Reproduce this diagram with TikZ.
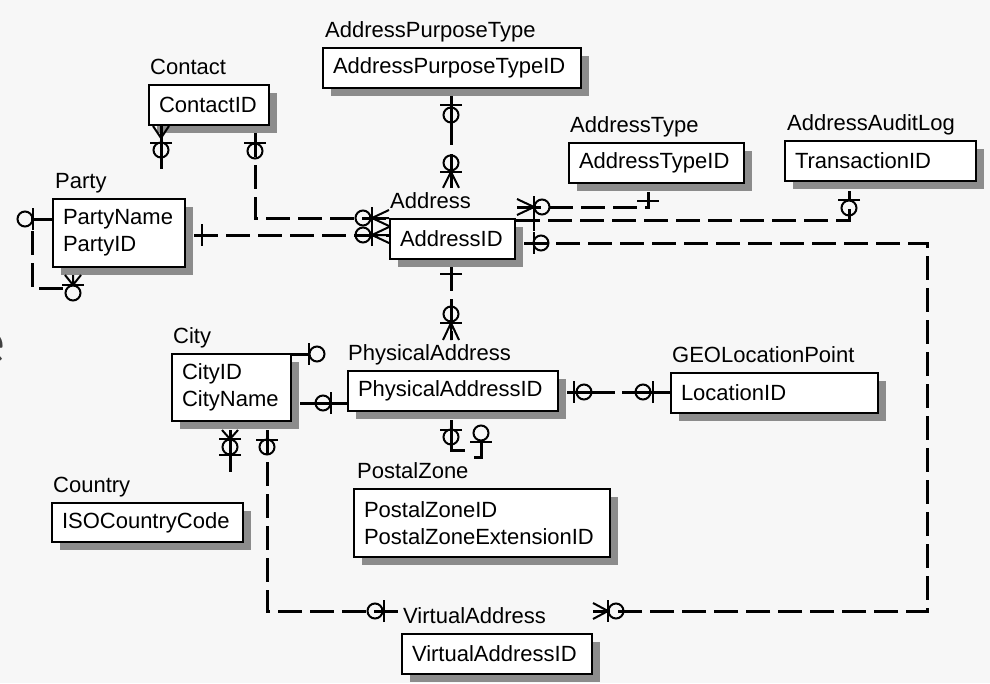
\documentclass[tikz,border=0pt]{standalone}
\usepackage{fontspec}
\setmainfont{Liberation Sans}
\newfontfamily\slidefont{Carlito}
\usepackage{xcolor}
\usepackage{tikz}
\usetikzlibrary{
  calc,
  positioning,
  shadows
}
\definecolor{ErInk}{HTML}{000000}
\definecolor{ErSlide}{HTML}{404040}
\colorlet{ErShadow}{black!45}
\colorlet{ErPaper}{black!3}
\newcommand{\ErFont}{\fontsize{22}{27}\selectfont}
\tikzset{
  every picture/.style = {line join=miter},
  entity/.style = {
    draw=ErInk,
    fill=white,
    line width=2pt,
    anchor=north west,
    minimum height=40pt,
    inner xsep=10pt,
    inner ysep=0pt,
    align=left,
    font=\ErFont,
    drop shadow={shadow xshift=8pt, shadow yshift=-8pt, fill=ErShadow, opacity=1}
  },
  entity two/.style = {entity, minimum height=68pt},
  entity title/.style = {anchor=base west, font=\ErFont, inner sep=0pt},
  link/.style = {draw=ErInk, line width=3pt, dash pattern=on 24pt off 8pt, line cap=butt},
  link solid/.style = {draw=ErInk, line width=3pt, line cap=butt},
  er mark/.style = {draw=ErInk, line width=2pt},
  slide text/.style = {font=\slidefont\fontsize{64}{70}\selectfont, text=ErSlide, inner sep=0pt}
}
\newcommand{\ErEnd}[3]{%
  \begin{scope}[shift={#1}, rotate=#2]
    #3
  \end{scope}%
}
\newcommand{\ErOne}[1]{\draw[er mark] (#1,-11) -- (#1,11);}
\newcommand{\ErZero}[1]{\draw[er mark] (#1,0) circle[radius=7.5pt];}
\newcommand{\ErMany}[1]{\draw[er mark] (0,-8) -- (#1,0) -- (0,8) (0,0) -- (#1,0);}

\begin{document}
\begin{tikzpicture}[x=1pt,y=-1pt]
  \fill[ErPaper] (0,0) rectangle (990,683);
  \useasboundingbox (0,0) rectangle (990,683);
  \clip (0,0) rectangle (990,683);

  \node[slide text, anchor=base east] (slideE) at (6,363) {e};

  \node[entity, text width=238pt] (apt) at (322,47) {AddressPurposeTypeID};
  \node[entity, text width=100pt] (contact) at (148,84) {ContactID};
  \node[entity, text width=155pt] (addrtype) at (568,142) {AddressTypeID};
  \node[entity, text width=171pt] (audit) at (784,140) {TransactionID};
  \node[entity two, text width=112pt] (party) at (52,198) {PartyName\\PartyID};
  \node[entity, text width=105pt] (address) at (389,218) {AddressID};
  \node[entity two, text width=99pt, minimum height=67pt] (city) at (171,353) {CityID\\CityName};
  \node[entity, text width=190pt] (phys) at (347,370) {PhysicalAddressID};
  \node[entity, text width=187pt] (geo) at (670,372) {LocationID};
  \node[entity two, text width=236pt] (postal) at (353,488) {PostalZoneID\\PostalZoneExtensionID};
  \node[entity, text width=171pt, minimum height=39pt] (country) at (51,502) {ISOCountryCode};
  \node[entity, text width=170pt] (virtual) at (401,633) {VirtualAddressID};

  \node[entity title] (aptT) at ($(apt.north west)+(3,-10)$) {AddressPurposeType};
  \node[entity title] (contactT) at ($(contact.north west)+(2,-10)$) {Contact};
  \node[entity title] (addrtypeT) at ($(addrtype.north west)+(2,-10)$) {AddressType};
  \node[entity title] (auditT) at ($(audit.north west)+(3,-10)$) {AddressAuditLog};
  \node[entity title] (partyT) at ($(party.north west)+(3,-10)$) {Party};
  \node[entity title] (addressT) at ($(address.north west)+(1,-10)$) {Address};
  \node[entity title] (cityT) at ($(city.north west)+(2,-10)$) {City};
  \node[entity title] (physT) at ($(phys.north west)+(1,-10)$) {PhysicalAddress};
  \node[entity title] (geoT) at ($(geo.north west)+(2,-10)$) {GEOLocationPoint};
  \node[entity title] (postalT) at ($(postal.north west)+(4,-10)$) {PostalZone};
  \node[entity title] (countryT) at ($(country.north west)+(2,-10)$) {Country};
  \node[entity title] (virtualT) at ($(virtual.north west)+(2,-10)$) {VirtualAddress};

  % contact -- address
  \coordinate (contactOut) at ($(contact.south east)+(-15,7)$);
  \draw[link] (contactOut) |- (address.north west);
  \ErEnd{(contactOut)}{-90}{\ErOne{10}\ErZero{18}}
  \ErEnd{(address.north west)}{180}{\ErMany{17}\ErOne{17}\ErZero{26}}

  % party -- address
  \coordinate (partyOut) at ($(party.north east)+(8,37)$);
  \coordinate (partyIn) at (partyOut -| address.west);
  \draw[link] (partyOut) -- (partyIn);
  \ErEnd{($(party.north east)+(0,37)$)}{0}{\ErOne{16}}
  \ErEnd{(partyIn)}{180}{\ErMany{17}\ErOne{17}\ErZero{26}}

  % party -- party
  \draw[link] ($(party.north west)+(0,21)$) -| ($(party.south west)+(-20,20)$) -- ($(party.south west)+(14,20)$);
  \ErEnd{($(party.north west)+(0,21)$)}{180}{\ErOne{19}\ErZero{27}}
  \ErEnd{($(party.south west)+(21,7)$)}{-90}{\ErMany{10}\ErOne{10}\ErZero{18}}

  % contact, open end
  \coordinate (contactFree) at ($(contact.south west)+(13,43)$);
  \draw[link solid] ($(contact.south west)+(13,0)$) -- (contactFree);
  \ErEnd{($(contact.south west)+(13,0)$)}{-90}{\ErMany{12}\ErOne{17}\ErZero{24}}

  % addresspurposetype -- address
  \coordinate (aptOut) at ($(apt.south west)+(129,7)$);
  \coordinate (aptIn) at ($(aptOut |- addressT.north)+(0,-4)$);
  \draw[link, dash pattern=on 49pt off 9pt] (aptOut) -- (aptIn);
  \ErEnd{(aptOut)}{-90}{\ErOne{9}\ErZero{19}}
  \ErEnd{(aptIn)}{90}{\ErMany{16}\ErOne{16}\ErZero{25}}

  % address -- addresstype
  \coordinate (typeOut) at ($(address.north east)+(1,-11)$);
  \coordinate (typeIn) at ($(addrtype.south west)+(80,8)$);
  \draw[link] (typeOut) -| (typeIn);
  \ErEnd{(typeOut)}{0}{\ErMany{17}\ErOne{17}\ErZero{25}}
  \ErEnd{(typeIn)}{-90}{\ErOne{9}}

  % address -- addressauditlog
  \coordinate (auditOut) at ($(address.north east)+(0,2)$);
  \coordinate (auditIn) at ($(audit.south west)+(65,9)$);
  \draw[link] (auditOut) -| (auditIn);
  \ErEnd{(auditOut)}{0}{\ErOne{18}}
  \ErEnd{(auditIn)}{-90}{\ErOne{9}\ErZero{17}}

  % address -- virtualaddress
  \coordinate (virtOut) at ($(address.north east)+(8,25)$);
  \coordinate (virtIn) at ($(virtual.north east)+(0,-22)$);
  \draw[link] (virtOut) -| ($(virtIn)+(334,0)$) -- (virtIn);
  \ErEnd{($(address.north east)+(0,25)$)}{0}{\ErOne{18}\ErZero{25}}
  \ErEnd{(virtIn)}{0}{\ErMany{15}\ErOne{15}\ErZero{23}}

  % city -- virtualaddress
  \coordinate (cityOut) at ($(city.south west)+(96,8)$);
  \coordinate (cityIn) at ($(virtual.north west)+(-2,-22)$);
  \draw[link] (cityOut) |- (cityIn);
  \ErEnd{(cityOut)}{-90}{\ErOne{10}\ErZero{17}}
  \ErEnd{(cityIn)}{180}{\ErOne{15}\ErZero{24}}

  % address -- physicaladdress
  \coordinate (physOut) at ($(address.south west)+(62,7)$);
  \coordinate (physIn) at ($(phys.north west)+(104,-30)$);
  \draw[link] (physOut) -- (physIn);
  \ErEnd{($(address.south west)+(62,0)$)}{-90}{\ErOne{14}}
  \ErEnd{(physIn)}{90}{\ErMany{17}\ErOne{17}\ErZero{26}}

  % city -- physicaladdress
  \coordinate (cityPhysOut) at ($(city.north east)+(8,50)$);
  \coordinate (cityPhysIn) at (cityPhysOut -| phys.west);
  \draw[link solid] (cityPhysOut) -- (cityPhysIn);
  \ErEnd{(cityPhysIn)}{180}{\ErOne{16}\ErZero{24}}

  % city, open ends
  \draw[link solid] ($(city.north east)+(0,1)$) -- ++(17,0);
  \ErEnd{($(city.north east)+(0,1)$)}{0}{\ErOne{17}\ErZero{25}}
  \coordinate (cityFree) at ($(city.south west)+(59,50)$);
  \draw[link solid] ($(city.south west)+(59,8)$) -- (cityFree);
  \ErEnd{($(city.south west)+(59,8)$)}{-90}{\ErMany{9}\ErOne{9}\ErZero{17}\ErOne{25}}

  % physicaladdress -- geolocationpoint
  \coordinate (geoOut) at ($(phys.north east)+(8,22)$);
  \coordinate (geoIn) at (geoOut -| geo.west);
  \draw[link, dash pattern=on 48pt off 7pt] (geoOut) -- (geoIn);
  \ErEnd{($(phys.north east)+(0,22)$)}{0}{\ErOne{15}\ErZero{25}}
  \ErEnd{(geoIn)}{180}{\ErOne{17}\ErZero{27}}

  % physicaladdress -- postalzone
  \coordinate (postalOut) at ($(phys.south west)+(104,8)$);
  \draw[link solid] (postalOut) |- ($(postal.north west)+(112,-38)$);
  \ErEnd{(postalOut)}{-90}{\ErOne{10}\ErZero{17}}
  \coordinate (postalFree) at ($(postal.north west)+(128,-31)$);
  \draw[link solid] ($(postalFree)+(-7,0)$) -- (postalFree) -- ++(0,-15);
  \ErEnd{(postalFree)}{90}{\ErOne{15}\ErZero{24}}
\end{tikzpicture}
\end{document}
